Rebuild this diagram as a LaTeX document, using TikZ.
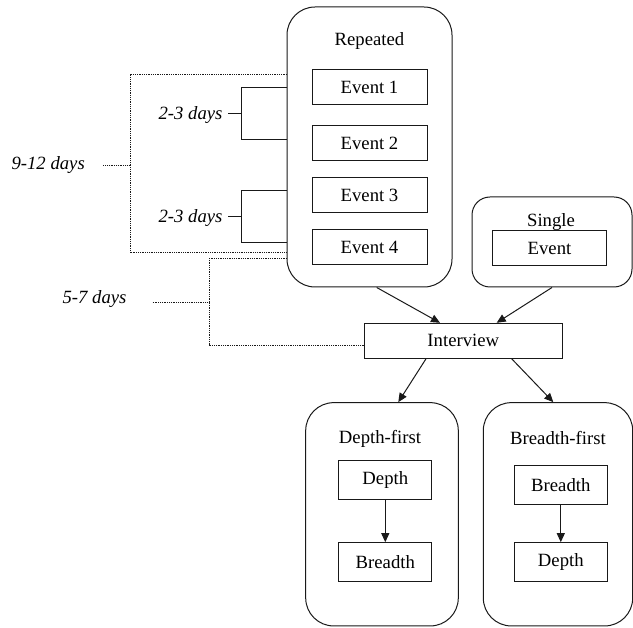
\documentclass[tikz,border=0pt]{standalone}
\usepackage{fontspec}
\setmainfont{Liberation Serif}
\usetikzlibrary{arrows.meta}
\begin{document}
\begin{tikzpicture}[x=1pt,y=-1pt,
  every node/.style={font=\fontsize{18.7}{22}\selectfont, text=black},
  cont/.style={draw=black!90, rounded corners=28pt, line width=1pt, inner sep=0},
  ibox/.style={draw=black!90, line width=1pt, inner sep=0, rectangle},
  ttl/.style={anchor=base, inner sep=0},
  lbl/.style={inner sep=0, anchor=base east, font=\fontsize{18.7}{22}\selectfont\itshape},
  dotl/.style={draw=black!90, line width=0.8pt, dash pattern=on 0.9pt off 0.9pt},
  conn/.style={draw=black!90, line width=1pt},
  arr/.style={draw=black!90, line width=1pt, -{Triangle[length=9pt,width=8pt]}}
]
\useasboundingbox (0,0) rectangle (633,628);

% Repeated container
\node[cont, minimum width=165pt, minimum height=280pt] (rep) at (369.5,147) {};
\node[ttl] (reptitle) at (369.5,46) {Repeated};
\node[ibox, minimum width=115pt, minimum height=35pt] (e1) at (369.5,87.5) {Event 1};
\node[ibox, minimum width=115pt, minimum height=35pt] (e2) at (369.5,143) {Event 2};
\node[ibox, minimum width=115pt, minimum height=35pt] (e3) at (369.5,195) {Event 3};
\node[ibox, minimum width=115pt, minimum height=35pt] (e4) at (369.5,247.5) {Event 4};

% Single container
\node[cont, rounded corners=18pt, minimum width=160pt, minimum height=90pt] (sing) at (552,242) {};
\node[ttl] (singtitle) at (551,226.7) {Single};
\node[ibox, minimum width=114pt, minimum height=35pt] (se) at (549.5,248) {Event};

% Interview
\node[ibox, minimum width=198pt, minimum height=35pt] (int) at (463.3,340.8) {Interview};

% Depth-first container
\node[cont, minimum width=152.6pt, minimum height=223.3pt] (df) at (382,514.3) {};
\node[ttl] (dftitle) at (380,444) {Depth-first};
\node[ibox, minimum width=92.7pt, minimum height=39pt] (dfd) at (385.3,480.5) {Depth};
\node[ibox, minimum width=92.7pt, minimum height=39pt] (dfb) at (385.3,562.2) {Breadth};

% Breadth-first container
\node[cont, minimum width=149.4pt, minimum height=223.3pt] (bf) at (558,514.3) {};
\node[ttl] (bftitle) at (558,445) {Breadth-first};
\node[ibox, minimum width=93pt, minimum height=39pt] (bfb) at (560.8,485.5) {Breadth};
\node[ibox, minimum width=93pt, minimum height=39pt] (bfd) at (560.8,562.2) {Depth};

% arrows
\draw[arr] ([xshift=7.2pt]rep.south) -- ([xshift=-23.3pt]int.north);
\draw[arr] (sing.south) -- ([xshift=33.4pt]int.north);
\draw[arr] ([xshift=-37.3pt]int.south) -- ([xshift=16.3pt]df.north);
\draw[arr] ([xshift=48.4pt]int.south) -- ([xshift=-4.7pt]bf.north);
\draw[arr] (dfd.south) -- (dfb.north);
\draw[arr] (bfd.north |- bfb.south) -- (bfd.north);

% bracket coordinates on the Repeated box edge
\coordinate (a1) at (287,87.3);
\coordinate (a2) at (287,140);
\coordinate (a3) at (287,190.7);
\coordinate (a4) at (287,242.7);
\coordinate (d1) at (287,74);
\coordinate (d2) at (287,252.7);
\coordinate (d3) at (287,258.3);
\coordinate (d4) at (int.west |- 0,345);

% 2-3 days brackets
\draw[conn] (a1) -- ++(-46,0) |- (a2);
\draw[conn] (a3) -- ++(-46,0) |- (a4);
\node[lbl] (t1) at (222.7,119.3) {2-3 days};
\node[lbl] (t2) at (222.7,222.5) {2-3 days};
\draw[conn] (228,113.6) -- (241,113.6);
\draw[conn] (228,216.7) -- (241,216.7);

% 9-12 days dotted bracket
\draw[dotl] (d1) -- (130,74) -- (130,252.7) -- (d2);
\node[lbl] (t3) at (85,169.3) {9-12 days};
\draw[dotl] (103.3,165.7) -- (130,165.7);

% 5-7 days dotted bracket
\draw[dotl] (d3) -- (209.3,258.3) -- (209.3,345) -- (d4);
\node[lbl] (t4) at (126.7,303.3) {5-7 days};
\draw[dotl] (152.7,302.3) -- (209.3,302.3);
\end{tikzpicture}
\end{document}
